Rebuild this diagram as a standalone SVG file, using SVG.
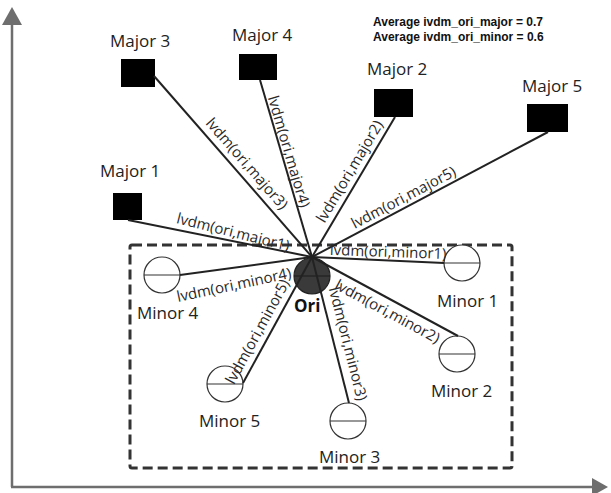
<svg xmlns="http://www.w3.org/2000/svg" width="611" height="493" viewBox="0 0 611 493">
<style>
.lbl{font-family:"Open Sans","Liberation Sans",sans-serif;font-size:17px;fill:#222}
.elbl{font-family:"Open Sans","Liberation Sans",sans-serif;font-size:15px;fill:#2a2a2a;text-anchor:middle}
.avg{font-family:"Liberation Sans",Arial,sans-serif;font-size:12px;font-weight:bold;fill:#111}
.major{fill:#000}
.minor circle{fill:#fff;stroke:#333;stroke-width:1.2}
.minor line{stroke:#333;stroke-width:1.2}
.edge{stroke:#222;stroke-width:2}
.axis{stroke:#6e6e6e;stroke-width:2.5}
</style>
<defs>
<marker id="ah" viewBox="0 0 10 10" refX="0" refY="5" markerWidth="8" markerHeight="8" markerUnits="userSpaceOnUse" orient="auto">
<path d="M0,0 L10,5 L0,10 z" fill="#6e6e6e"/>
</marker>
</defs>
<rect width="611" height="493" fill="#fff"/>
<g id="axes">
<line class="axis" x1="12" y1="487" x2="12" y2="25"/>
<polygon points="12,7 2,25 22,25" fill="#6e6e6e"/>
<line class="axis" x1="11" y1="487" x2="593" y2="487"/>
<polygon points="608,487 592,478 592,496" fill="#6e6e6e"/>
</g>
<g id="group-box">
<rect x="130" y="245" width="382" height="223" rx="2" fill="none" stroke="#333" stroke-width="3" stroke-dasharray="10 5"/>
</g>
<g id="stats">
<text class="avg" x="373" y="26">Average ivdm_ori_major = 0.7</text>
<text class="avg" x="373" y="41">Average ivdm_ori_minor = 0.6</text>
</g>
<g id="major3"><rect class="major" x="121" y="59" width="34" height="28"/><text class="lbl" x="110" y="47">Major 3</text></g>
<g id="major4"><rect class="major" x="239" y="54" width="38" height="26"/><text class="lbl" x="232" y="41">Major 4</text></g>
<g id="major1"><rect class="major" x="113" y="193" width="29" height="27"/><text class="lbl" x="100" y="177">Major 1</text></g>
<g id="major2"><rect class="major" x="374" y="89" width="39" height="28"/><text class="lbl" x="367" y="75">Major 2</text></g>
<g id="major5"><rect class="major" x="527" y="104" width="41" height="28"/><text class="lbl" x="522" y="92">Major 5</text></g>
<g id="minor4" class="minor"><circle cx="162" cy="275" r="18"/><line x1="144" y1="275" x2="180" y2="275"/><text class="lbl" x="137" y="319">Minor 4</text></g>
<g id="minor5" class="minor"><circle cx="225" cy="384" r="18"/><line x1="207" y1="384" x2="243" y2="384"/><text class="lbl" x="199" y="427">Minor 5</text></g>
<g id="minor1" class="minor"><circle cx="462" cy="263" r="18"/><line x1="444" y1="263" x2="480" y2="263"/><text class="lbl" x="437" y="307">Minor 1</text></g>
<g id="minor2" class="minor"><circle cx="457" cy="354" r="18"/><line x1="439" y1="354" x2="475" y2="354"/><text class="lbl" x="431" y="397">Minor 2</text></g>
<g id="minor3" class="minor"><circle cx="348" cy="421" r="18"/><line x1="330" y1="421" x2="366" y2="421"/><text class="lbl" x="319" y="463">Minor 3</text></g>
<g id="ori"><circle cx="312" cy="276" r="18" fill="#3a3a3a" stroke="#222" stroke-width="1.2"/><line x1="294" y1="276" x2="330" y2="276" stroke="#1a1a1a" stroke-width="1.2"/><text x="294" y="312" style="font-family:'Open Sans','Liberation Sans',sans-serif;font-size:17px;font-weight:bold;fill:#111">Ori</text></g>
<g id="connectors">
<line class="edge" x1="312" y1="257" x2="154" y2="76"/>
<line class="edge" x1="312" y1="257" x2="260" y2="80"/>
<line class="edge" x1="312" y1="257" x2="128" y2="220"/>
<line class="edge" x1="312" y1="257" x2="395" y2="117"/>
<line class="edge" x1="312" y1="257" x2="548" y2="132"/>
<line class="edge" x1="312" y1="257" x2="180" y2="275"/>
<line class="edge" x1="312" y1="257" x2="243" y2="383"/>
<line class="edge" x1="312" y1="257" x2="444" y2="263"/>
<line class="edge" x1="312" y1="257" x2="458" y2="336"/>
<line class="edge" x1="312" y1="257" x2="349" y2="403"/>
<text class="elbl" transform="translate(243,167) rotate(48.9)">lvdm(ori,major3)</text>
<text class="elbl" transform="translate(284,153) rotate(73.6)">lvdm(ori,major4)</text>
<text class="elbl" transform="translate(232,237) rotate(14)">lvdm(ori,major1)</text>
<text class="elbl" transform="translate(354,174) rotate(-59.3)">lvdm(ori,major2)</text>
<text class="elbl" transform="translate(406,202) rotate(-27.9)">lvdm(ori,major5)</text>
<text class="elbl" transform="translate(388,257) rotate(2)">lvdm(ori,minor1)</text>
<text class="elbl" transform="translate(385,316) rotate(28.4)">lvdm(ori,minor2)</text>
<text class="elbl" transform="translate(343,345) rotate(75.8)">lvdm(ori,minor3)</text>
<text class="elbl" transform="translate(262,334) rotate(-61.3)">lvdm(ori,minor5)</text>
<text class="elbl" transform="translate(235,290) rotate(-12)">lvdm(ori,minor4)</text>
</g>
</svg>
